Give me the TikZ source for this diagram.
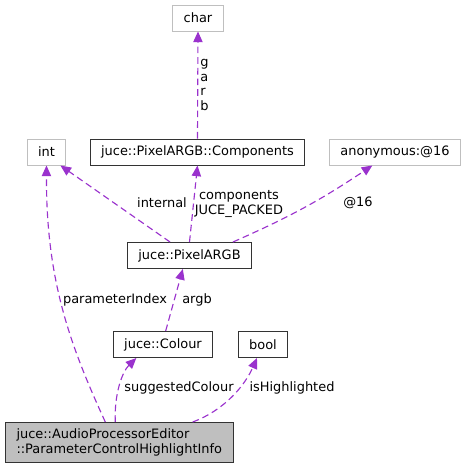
\documentclass[tikz,border=0pt]{standalone}
\usepackage{fontspec}
\setmainfont{DejaVu Sans}
\usetikzlibrary{arrows.meta}
\definecolor{edgepurple}{HTML}{9A32CD}
\definecolor{boxgrey}{HTML}{BFBFBF}
\begin{document}
\begin{tikzpicture}[x=0.75pt,y=-0.75pt,
    font=\fontsize{9.7}{11}\selectfont,
    cls/.style={draw=black!80, line width=0.75pt, fill=white, inner xsep=8.25pt, inner ysep=0pt, minimum height=19.5pt},
    ext/.style={cls, draw=boxgrey},
    member/.style={draw=edgepurple, line width=0.85pt, dash pattern=on 5pt off 3pt, -{Triangle[length=8pt,width=7pt]}},
    lbl/.style={inner sep=0pt}]
    \useasboundingbox (0,0) rectangle (466,468);
    \node[ext] (char) at (198,18) {char};
    \node[ext] (int) at (46.5,152) {int};
    \node[cls] (comp) at (197.5,152) {juce::PixelARGB::Components};
    \node[ext] (anon) at (395,152) {anonymous:@16};
    \node[cls] (argb) at (189.5,255.5) {juce::PixelARGB};
    \node[cls] (colour) at (163,344.5) {juce::Colour};
    \node[cls] (bool) at (263,344.5) {bool};
    \node[cls, fill=boxgrey, align=left, minimum height=30pt, anchor=north west] (info) at (5,422) {juce::AudioProcessorEditor\\::ParameterControlHighlightInfo};
    % members
    \draw[member] (comp.north) -- (char.south);
    \draw[member] ([xshift=-14.6pt]argb.north) -- ([xshift=-4.5pt]int.south east);
    \draw[member] (argb.north) -- (comp.south);
    \draw[member] ([xshift=32.6pt]argb.north) to[bend right=5] ([xshift=-17pt]anon.south);
    \draw[member] ([xshift=-10.5pt]info.north) .. controls (70,345) and (46,280) .. (int.south);
    \draw[member] ([xshift=2pt]colour.north) -- ([xshift=-5pt]argb.south);
    \draw[member] ([xshift=-3pt]info.north) .. controls (114,395) and (122,372) .. ([xshift=-20pt]colour.south);
    \draw[member] ([xshift=55pt]info.north) .. controls (225,410) and (245,385) .. ([xshift=-4.5pt]bool.south);
    % labels
    \node[lbl, align=left, anchor=west] (lblgarb) at (200,85) {g\\a\\r\\b};
    \node[lbl] (lblinternal) at (162,203) {internal};
    \node[lbl, align=center] (lblcomp) at (239,204) {components\\JUCE\_PACKED};
    \node[lbl] (lbl16) at (358,203) {@16};
    \node[lbl] (lblindex) at (115,300) {parameterIndex};
    \node[lbl] (lblargb) at (197,300) {argb};
    \node[lbl] (lblcolour) at (179,388) {suggestedColour};
    \node[lbl] (lblhigh) at (292,388) {isHighlighted};
\end{tikzpicture}
\end{document}
